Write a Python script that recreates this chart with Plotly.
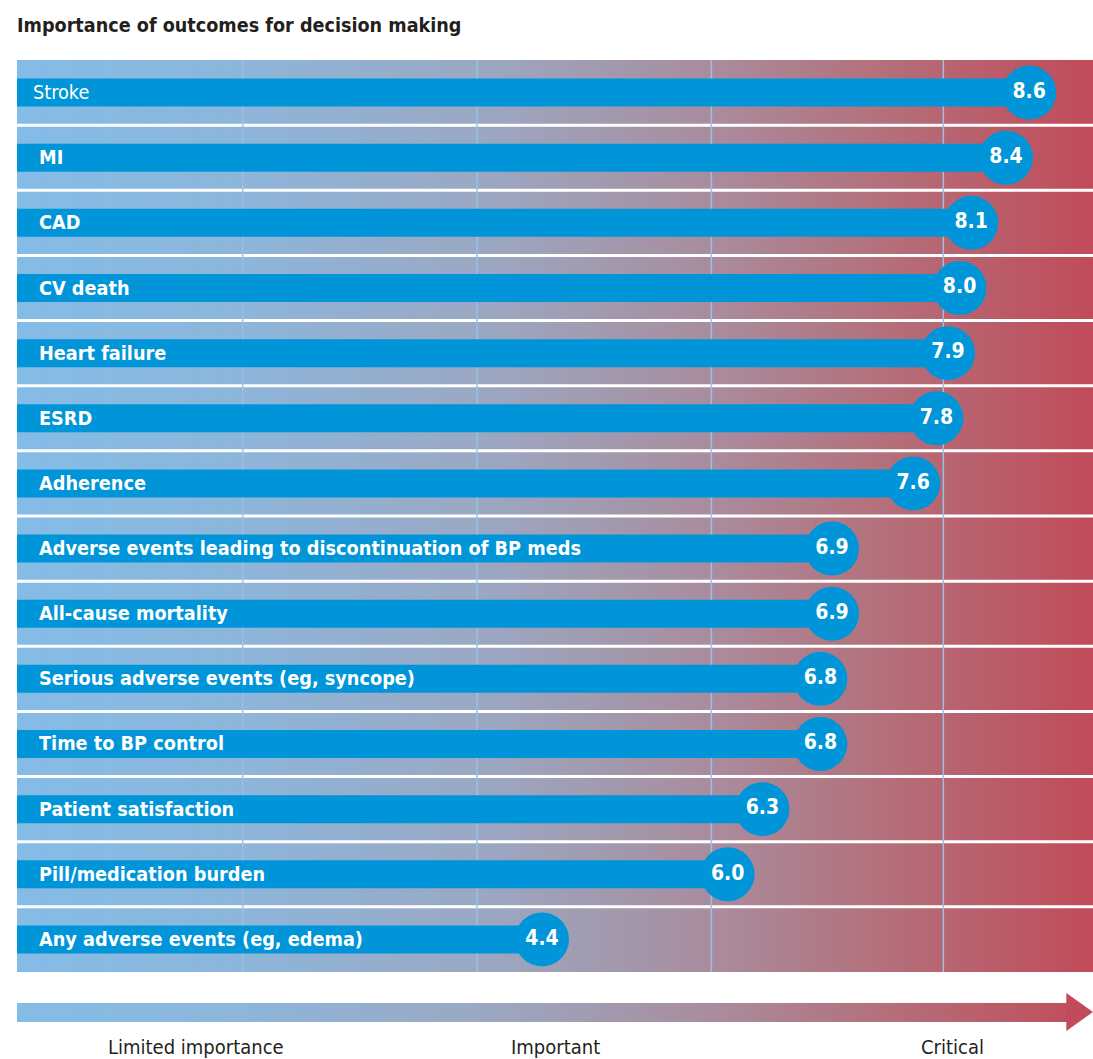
import numpy as np
import plotly.graph_objects as go
from plotly.colors import sample_colorscale

# ---------------- data ----------------
outcomes = [
    "Stroke", "MI", "CAD", "CV death", "Heart failure", "ESRD", "Adherence",
    "Adverse events leading to discontinuation of BP meds",
    "All-cause mortality", "Serious adverse events (eg, syncope)",
    "Time to BP control", "Patient satisfaction", "Pill/medication burden",
    "Any adverse events (eg, edema)",
]
scores = [8.6, 8.4, 8.1, 8.0, 7.9, 7.8, 7.6, 6.9, 6.9, 6.8, 6.8, 6.3, 6.0, 4.4]
scale_labels = ["Limited importance", "Important", "Critical"]

# ---------------- style / layout constants ----------------
XMIN, XMAX = -0.126, 9.15
GRID_X = [1.82, 3.84, 5.86, 7.86]
SCALE_LABEL_X = [1.42, 4.52, 7.94]
ARROW_END = 8.93
FONT = "DejaVu Sans Condensed, DejaVu Sans, sans-serif"
BAR_BLUE = "#0095D8"
GRAD = [
    [0.00, "#84BCE7"],
    [0.21, "#8DB6DA"],
    [0.43, "#9BA8C3"],
    [0.56, "#A398AC"],
    [0.64, "#A98D9F"],
    [0.80, "#B3717C"],
    [1.00, "#C14B5A"],
]

n = len(outcomes)
idx = list(range(n))

fig = go.Figure()
shapes = []

# gradient background as thin strips (below everything)
N = 360
xe = np.linspace(XMIN, XMAX, N + 1)
fr = ((xe[:-1] + xe[1:]) / 2 - XMIN) / (XMAX - XMIN)
cols = sample_colorscale(GRAD, fr.tolist())
dx = (XMAX - XMIN) / N
for k in range(N):
    shapes.append(dict(
        type="rect", xref="x", yref="y", layer="below",
        x0=xe[k], x1=min(xe[k + 1] + dx * 0.6, XMAX), y0=-0.5, y1=n - 0.5,
        fillcolor=cols[k], line=dict(width=0)))

# white row separators
for k in range(n - 1):
    shapes.append(dict(
        type="line", xref="x", yref="y", layer="between",
        x0=XMIN, x1=XMAX, y0=k + 0.5, y1=k + 0.5,
        line=dict(color="white", width=3)))

# vertical grid lines
for g in GRID_X:
    shapes.append(dict(
        type="line", xref="x", yref="y", layer="between",
        x0=g, x1=g, y0=-0.5, y1=n - 0.5,
        line=dict(color="#99C0E6", width=1.5)))

# bars
fig.add_trace(go.Bar(
    y=idx, x=[s - XMIN for s in scores], base=XMIN, orientation="h",
    width=0.43, marker=dict(color=BAR_BLUE, line=dict(width=0)),
    hoverinfo="skip", showlegend=False))

# circles with values
fig.add_trace(go.Scatter(
    x=scores, y=idx, mode="markers+text",
    marker=dict(size=54, color=BAR_BLUE, line=dict(width=0)),
    text=[f"{s:.1f}" for s in scores], textposition="middle center",
    textfont=dict(family=FONT, size=21, color="white", weight="bold"),
    hoverinfo="skip", showlegend=False, cliponaxis=False))

annotations = []
for i, name in enumerate(outcomes):
    first = (i == 0)
    annotations.append(dict(
        x=XMIN, y=i, xref="x", yref="y", text=name, showarrow=False,
        xanchor="left", yanchor="middle", xshift=14 if first else 20,
        font=dict(family=FONT, size=19.7, color="white",
                  weight="normal" if first else "bold")))

# bottom gradient arrow
M = 300
axe = np.linspace(XMIN, ARROW_END, M + 1)
axc = (axe[:-1] + axe[1:]) / 2
azrow = ((axc - XMIN) / (XMAX - XMIN)).tolist()
fig.add_trace(go.Heatmap(
    x=axe, y=[0.237, 0.737], z=[azrow], colorscale=GRAD, zmin=0, zmax=1,
    showscale=False, hoverinfo="skip", xaxis="x", yaxis="y2"))
fig.add_trace(go.Scatter(
    x=[ARROW_END - 0.01, XMAX, ARROW_END - 0.01, ARROW_END - 0.01],
    y=[0, 0.5, 1, 0], mode="lines", fill="toself", fillcolor="#C14B5A",
    line=dict(width=0, color="#C14B5A"), hoverinfo="skip", showlegend=False,
    xaxis="x", yaxis="y2"))

for lab, px in zip(scale_labels, SCALE_LABEL_X):
    annotations.append(dict(
        x=px, y=0.012, xref="x", yref="paper", text=lab, showarrow=False,
        xanchor="center", yanchor="middle",
        font=dict(family=FONT, size=20, color="#231F20")))

annotations.append(dict(
    x=0, y=1, xref="paper", yref="paper", yshift=35, xshift=-2,
    text="Importance of outcomes for decision making", showarrow=False,
    xanchor="left", yanchor="middle",
    font=dict(family=FONT, size=19.6, color="#231F20", weight="bold")))

fig.update_layout(
    width=1093, height=1059,
    margin=dict(l=17, r=0, t=60, b=0),
    paper_bgcolor="white", plot_bgcolor="rgba(0,0,0,0)",
    showlegend=False, barmode="overlay",
    xaxis=dict(range=[XMIN, XMAX], visible=False, fixedrange=True),
    yaxis=dict(range=[n - 0.5, -0.5], visible=False, domain=[0.0871, 1.0]),
    yaxis2=dict(range=[0, 1], visible=False, domain=[0.028, 0.0661],
                anchor="x"),
    annotations=annotations,
    shapes=shapes,
)

fig.write_html(
    "out.html",
    config={"displayModeBar": False},
    post_script="document.body.style.margin='0';document.body.style.overflow='hidden';",
)
